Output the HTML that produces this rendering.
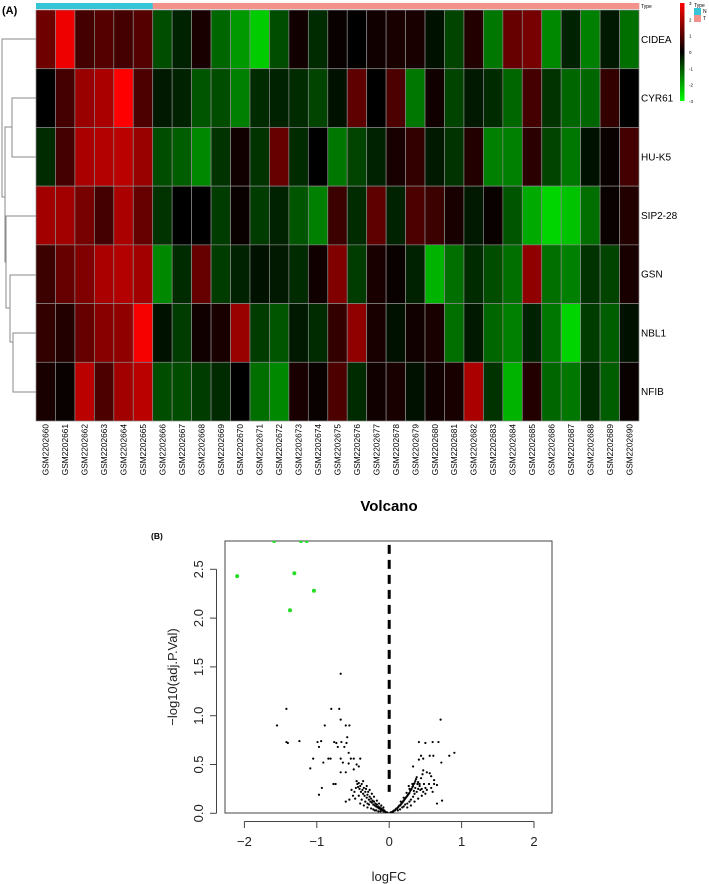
<!DOCTYPE html>
<html><head><meta charset="utf-8"><style>
html,body{margin:0;padding:0;background:#fff;}
svg{display:block;font-family:"Liberation Sans",Arial,sans-serif;}
</style></head><body>
<svg id="fig" width="709" height="884" viewBox="0 0 709 884" xmlns="http://www.w3.org/2000/svg">
<text x="2" y="14" font-size="11" font-weight="bold">(A)</text>
<g id="dendro" stroke="#8a8a8a" stroke-width="1" fill="none">
<path d="M36 39H2V197H5"/>
<path d="M36 98H12V157H36"/>
<path d="M12 127H5V262H6"/>
<path d="M36 216H6V308H10"/>
<path d="M36 275H10V342H13"/>
<path d="M36 333H13V392H36"/>
</g>
<g id="heat"></g>
<g id="annot"></g>
<text x="641" y="8" font-size="5">Type</text>
<g id="legend"></g>
<g id="volcano"></g>
</svg>
<script>
const NS="http://www.w3.org/2000/svg";
function mk(t,a,p){const e=document.createElementNS(NS,t);for(const k in a)e.setAttribute(k,a[k]);p.appendChild(e);return e;}
// ---- heatmap data ----
const genes=["CIDEA","CYR61","HU-K5","SIP2-28","GSN","NBL1","NFIB"];
const samples=[];for(let i=660;i<=690;i++)samples.push("GSM2202"+i);
const sampleTypes=["N","N","N","N","N","N","T","T","T","T","T","T","T","T","T","T","T","T","T","T","T","T","T","T","T","T","T","T","T","T","T"];
const rowCIDEA=[1.3,2.8,0.8,1.0,0.8,1.0,-0.9,-0.4,0.3,-1.2,-1.8,-2.4,-0.9,0.2,-0.5,0.1,0,0.2,0.3,0.3,-0.2,-0.8,0.4,-1.4,1.2,1.4,-1.6,-0.4,-1.5,-0.3,-1.3];
const rowCYR61=[0,0.8,1.8,2.0,3.0,0.9,-0.3,-0.4,-1.0,-0.9,-1.5,-0.5,-0.4,-0.5,-0.8,-0.2,1.1,0,0.9,-1.4,0.2,-0.8,-0.3,-0.5,-1.2,0.8,-0.6,-1.2,-1.2,0.6,0];
const rowHUK5=[-0.5,0.8,2.0,2.1,2.2,1.8,-0.9,-1.1,-1.6,-0.6,0.2,-0.6,1.2,-0.5,0,-1.4,-0.8,-0.4,0.3,0.6,-0.3,-0.6,0.4,-1.5,-1.5,0.5,-0.8,-1.4,-0.2,0.1,0.8];
const rowSIP=[1.9,1.9,1.4,0.8,2.0,1.2,-0.6,0,0,-0.7,0.1,-0.7,-0.4,-1.0,-1.5,0.7,-0.5,1.1,-0.4,0.9,0.7,0.3,-0.3,0.1,-1.0,-2.0,-2.5,-2.3,-1.3,0.1,0.4];
const rowGSN=[0.7,1.2,1.5,2.0,2.1,1.9,-1.6,-0.5,1.2,-0.7,-0.4,-0.2,-0.3,-0.5,0.2,1.5,-0.7,0.3,0.1,-0.4,-2.1,-1.3,-0.5,-0.9,-1.3,1.7,-1.3,-1.5,-0.6,-0.8,0.3];
const rowNBL1=[0.6,0.4,1.2,1.6,1.7,2.9,-0.2,-0.7,0.2,0.3,1.8,-0.7,-1.0,-0.3,-0.5,0.6,1.7,0.3,-0.2,0.2,0.3,-1.3,-0.3,-1.2,-1.5,-0.4,-1.4,-2.5,-0.7,-1.1,-0.2];
const rowNFIB=[0.3,0.1,2.2,0.9,1.9,2.2,-0.9,-0.9,-0.7,-0.5,0,-1.3,-1.6,0.3,0.1,0.9,-0.5,0.2,0.3,-0.2,0.2,0.3,2.0,-0.6,-2.1,0.4,-1.2,-1.4,-0.5,-1.1,0.1];
const matrix=[rowCIDEA,rowCYR61,rowHUK5,rowSIP,rowGSN,rowNBL1,rowNFIB];
const legendTicks=[3,2,1,0,-1,-2,-3];
function col(v){v=Math.max(-3,Math.min(3,v));const t=Math.abs(v)/3;const c=Math.round(255*t);return v>=0?`rgb(${c},0,0)`:`rgb(0,${c},0)`;}
const hx0=36,hx1=639,hy0=10,hy1=421;
const cw=(hx1-hx0)/samples.length,rh=(hy1-hy0)/genes.length;
const heat=document.getElementById('heat');
matrix.forEach((row,r)=>{row.forEach((v,c)=>{
 const e=mk('rect',{x:hx0+c*cw,y:hy0+r*rh,width:cw,height:rh,fill:col(v),stroke:'#8c8c8c','stroke-width':0.7},heat);
 
 
});
 const t=mk('text',{x:641,y:hy0+r*rh+rh/2+3.5,'font-size':10},heat);t.textContent=genes[r];
 
 
});
samples.forEach((s,c)=>{
 const x=hx0+c*cw+cw/2+3;
 const t=mk('text',{x:x,y:424,'font-size':8.3,'text-anchor':'end',transform:`rotate(-90 ${x} 424)`},heat);t.textContent=s;
 
 
});
const annot=document.getElementById('annot');
sampleTypes.forEach((tp,c)=>{
 const e=mk('rect',{x:hx0+c*cw,y:3,width:cw+0.3,height:6,fill:tp==='N'?'#35c5d6':'#f2928a'},annot);
 
 
});
// legend
const lg=document.getElementById('legend');
const defs=mk('defs',{},lg);const gr=mk('linearGradient',{id:'lgr',x1:0,y1:0,x2:0,y2:1},defs);
[['0','#ff0000'],['0.5','#000'],['1','#00ff00']].forEach(s=>mk('stop',{offset:s[0],'stop-color':s[1]},gr));
const lb=mk('rect',{x:680,y:3,width:4.5,height:98,fill:'url(#lgr)'},lg);


legendTicks.forEach((v,i)=>{const t=mk('text',{x:689,y:3+i*(98/6)+2,'font-size':4.5},lg);t.textContent=v;
 
 });
let tt=mk('text',{x:694,y:7,'font-size':5},lg);tt.textContent='Type';
mk('rect',{x:694,y:8,width:7,height:7,fill:'#35c5d6'},lg);mk('rect',{x:694,y:15,width:7,height:7,fill:'#f2928a'},lg);
tt=mk('text',{x:703,y:13,'font-size':5},lg);tt.textContent='N';
tt=mk('text',{x:703,y:20,'font-size':5},lg);tt.textContent='T';

// ---- volcano data ----
const sigFC=[-2.10,-1.31,-1.04,-1.37,-1.59,-1.22,-1.14];
const sigP=[2.43,2.46,2.28,2.08,2.79,2.79,2.79];
const nsFC=[-0.67,-1.42,-0.80,-0.69,-1.55,-0.89,-0.60,-0.55,-0.67,0.71,-1.42,-1.40,-1.24,-0.99,-0.94,-0.97,-0.76,-0.73,-0.66,-0.59,-0.58,-0.62,-0.71,-0.56,-0.84,-0.81,-0.67,-1.05,-0.91,-0.53,-0.49,-0.40,-1.09,-0.64,-0.56,-0.42,-0.67,-0.60,-0.77,-0.74,-0.93,-0.97,-0.60,-0.45,-0.49,
0.41,0.50,0.60,0.68,0.72,0.83,0.90,0.56,0.61,0.44,0.47,0.41,0.66,0.62,0.58,0.66,0.73,0.52,0.47,0.56,0.33,
-0.45,-0.44,-0.43,-0.42,-0.41,-0.40,-0.39,-0.38,-0.37,-0.36,-0.35,-0.34,-0.33,-0.32,-0.31,-0.30,-0.29,-0.28,-0.27,-0.26,-0.25,-0.24,-0.23,-0.22,-0.21,-0.20,-0.19,-0.18,-0.17,-0.16,-0.15,-0.14,-0.13,-0.12,-0.11,-0.10,-0.09,-0.08,-0.07,-0.06,-0.05,-0.04,-0.03,-0.02,-0.01,-0.48,-0.50,-0.52,-0.47,-0.55,-0.35,-0.30,-0.28,-0.25,-0.22,-0.20,-0.18,-0.15,-0.12,-0.33,-0.38,-0.42,-0.46,-0.36,-0.31,-0.27,-0.24,-0.21,-0.17,-0.14,-0.11,-0.08,-0.30,-0.40,
0.01,0.02,0.03,0.04,0.05,0.06,0.07,0.08,0.09,0.10,0.11,0.12,0.13,0.14,0.15,0.16,0.17,0.18,0.19,0.20,0.21,0.22,0.23,0.24,0.25,0.26,0.27,0.28,0.29,0.30,0.31,0.32,0.33,0.34,0.35,0.36,0.37,0.38,0.39,0.40,0.42,0.44,0.46,0.48,0.50,0.52,0.55,0.58,0.60,0.62,0.12,0.15,0.18,0.20,0.22,0.25,0.28,0.30,0.33,0.35,0.38,0.40,0.42,0.45,0.47,0.30,0.25,0.35,0.40,0.45,0.50,0.16,0.20,0.24,0.28,0.32,0.36,0.43,0.27,0.34];
const nsP=[1.43,1.07,1.07,1.07,0.90,0.90,0.90,0.90,0.96,0.96,0.73,0.72,0.74,0.73,0.74,0.68,0.73,0.72,0.73,0.72,0.78,0.68,0.68,0.62,0.56,0.56,0.56,0.56,0.52,0.56,0.56,0.56,0.46,0.52,0.51,0.48,0.42,0.42,0.30,0.30,0.26,0.19,0.12,0.50,0.45,
0.73,0.72,0.73,0.73,0.52,0.59,0.62,0.59,0.59,0.59,0.56,0.55,0.29,0.34,0.38,0.10,0.13,0.42,0.44,0.41,0.48,
0.33,0.30,0.27,0.31,0.25,0.28,0.22,0.30,0.24,0.20,0.26,0.18,0.22,0.25,0.16,0.19,0.22,0.14,0.17,0.12,0.15,0.11,0.13,0.09,0.12,0.08,0.10,0.07,0.09,0.06,0.07,0.05,0.06,0.04,0.05,0.03,0.04,0.02,0.03,0.02,0.01,0.01,0.01,0.00,0.00,0.22,0.18,0.24,0.15,0.14,0.08,0.06,0.09,0.05,0.04,0.03,0.03,0.02,0.02,0.12,0.14,0.18,0.26,0.33,0.28,0.24,0.20,0.17,0.13,0.10,0.08,0.06,0.10,0.10,
0.00,0.01,0.01,0.01,0.02,0.02,0.03,0.03,0.04,0.05,0.05,0.06,0.07,0.08,0.08,0.09,0.10,0.11,0.12,0.13,0.14,0.15,0.16,0.17,0.18,0.19,0.20,0.21,0.23,0.24,0.25,0.27,0.28,0.30,0.31,0.33,0.35,0.37,0.30,0.32,0.30,0.36,0.40,0.30,0.26,0.24,0.30,0.26,0.22,0.30,0.03,0.04,0.06,0.07,0.09,0.10,0.12,0.14,0.17,0.20,0.22,0.25,0.28,0.25,0.22,0.08,0.06,0.12,0.15,0.18,0.20,0.12,0.16,0.21,0.25,0.30,0.26,0.24,0.28,0.23];
const xTicks=[-2,-1,0,1,2];
const yTicks=[0.0,0.5,1.0,1.5,2.0,2.5];
const yTickLabels=["0.0","0.5","1.0","1.5","2.0","2.5"];
const X=v=>389.2+v*72.4, Y=v=>813.3-v*97.6;
const vg=document.getElementById('volcano');
let t=mk('text',{x:389,y:511,'font-size':15,'font-weight':'bold','text-anchor':'middle'},vg);t.textContent='Volcano';

t=mk('text',{x:151,y:539,'font-size':8.5,'font-weight':'bold'},vg);t.textContent='(B)';

const cp=mk('clipPath',{id:'pc'},vg);mk('rect',{x:225,y:541,width:327,height:272},cp);
const box=mk('rect',{x:225,y:541,width:327,height:272,fill:'none',stroke:'#444','stroke-width':1},vg);

// axes
const ax=mk('g',{stroke:'#444','stroke-width':1},vg);
mk('line',{x1:X(xTicks[0]),x2:X(xTicks[xTicks.length-1]),y1:821.5,y2:821.5},ax);
mk('line',{x1:216.5,x2:216.5,y1:Y(yTicks[0]),y2:Y(yTicks[yTicks.length-1])},ax);
xTicks.forEach(v=>{mk('line',{x1:X(v),x2:X(v),y1:821.5,y2:828},ax);
 const l=mk('text',{x:X(v),y:846,'font-size':13,'text-anchor':'middle',fill:'#222'},vg);l.textContent=v<0?'\u2212'+(-v):v;
 });
yTicks.forEach((v,i)=>{mk('line',{x1:216.5,x2:210,y1:Y(v),y2:Y(v)},ax);
 const l=mk('text',{x:203,y:Y(v),'font-size':13,'text-anchor':'middle',fill:'#222',transform:`rotate(-90 203 ${Y(v)})`},vg);l.textContent=yTickLabels[i];
 });
t=mk('text',{x:389,y:881,'font-size':13,'text-anchor':'middle',fill:'#222'},vg);t.textContent='logFC';

t=mk('text',{x:177,y:677,'font-size':13,'text-anchor':'middle',fill:'#222',transform:'rotate(-90 177 677)'},vg);t.textContent='\u2212log10(adj.P.Val)';

const dl=mk('line',{x1:X(0),x2:X(0),y1:Y(2.75),y2:Y(0.22),stroke:'#000','stroke-width':3,'stroke-dasharray':'9 6'},vg);

const pts=mk('g',{'clip-path':'url(#pc)'},vg);
nsFC.forEach((v,i)=>{const c=mk('circle',{cx:X(v),cy:Y(nsP[i]),r:1.1,fill:'#000'},pts);
 });
sigFC.forEach((v,i)=>{const c=mk('circle',{cx:X(v),cy:Y(sigP[i]),r:2,fill:'#22dd22'},pts);
 });
</script>
</body></html>
